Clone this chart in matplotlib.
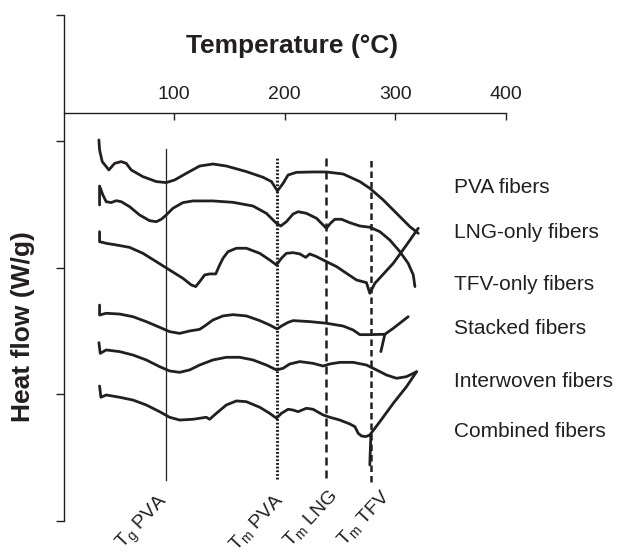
import numpy as np
import matplotlib
matplotlib.use('Agg')
import matplotlib.pyplot as plt

# DSC traces: temperature (C) and stacked heat flow (arbitrary offset units)
pva_t = [32.0, 32.6, 35.0, 41.0, 46.2, 52.2, 56.7, 61.2, 71.8, 83.9, 92.9, 100.5, 111.0, 123.1,
         135.1, 147.2, 165.3, 180.4, 188.0, 193.4, 198.5, 203.0, 210.6, 225.6, 237.7, 252.8,
         267.9, 276.9, 289.0, 301.1, 313.1, 320.7]
pva_hf = [3.012, 2.933, 2.841, 2.775, 2.827, 2.841, 2.827, 2.775, 2.722, 2.683, 2.675, 2.696,
          2.748, 2.806, 2.822, 2.806, 2.762, 2.717, 2.683, 2.609, 2.669, 2.735, 2.756, 2.759,
          2.759, 2.743, 2.683, 2.630, 2.538, 2.432, 2.327, 2.274]

lng_t = [32.6, 32.6, 35.6, 38.6, 43.1, 47.7, 52.2, 59.7, 68.8, 77.8, 83.9, 88.4, 92.9, 98.9,
         108.0, 117.1, 135.1, 153.2, 171.3, 183.4, 192.5, 196.4, 201.5, 207.6, 212.1, 219.6,
         228.7, 234.7, 237.7, 241.3, 245.3, 251.3, 258.8, 267.9, 276.9, 286.0, 295.0, 304.1,
         311.6, 316.2, 317.7]
lng_hf = [2.498, 2.648, 2.577, 2.524, 2.517, 2.532, 2.524, 2.485, 2.419, 2.374, 2.366, 2.385,
          2.419, 2.472, 2.517, 2.530, 2.530, 2.519, 2.490, 2.432, 2.353, 2.332, 2.366, 2.427,
          2.445, 2.432, 2.393, 2.340, 2.314, 2.353, 2.385, 2.385, 2.358, 2.332, 2.322, 2.287,
          2.221, 2.129, 2.037, 1.945, 1.853]

tfv_t = [32.6, 32.6, 38.6, 47.7, 59.7, 71.8, 83.9, 95.9, 108.0, 115.5, 119.5, 123.1, 127.6,
         132.1, 137.6, 141.2, 144.2, 148.7, 156.3, 165.3, 177.4, 186.4, 192.5, 197.0, 201.5,
         207.6, 213.6, 219.0, 222.6, 228.7, 237.7, 246.8, 255.8, 264.9, 273.9, 276.9, 281.5,
         298.1, 310.1, 320.7]
tfv_hf = [2.287, 2.208, 2.195, 2.182, 2.163, 2.116, 2.050, 1.984, 1.918, 1.866, 1.853, 1.892,
          1.945, 1.953, 1.953, 2.024, 2.077, 2.129, 2.156, 2.156, 2.116, 2.063, 2.024, 2.077,
          2.116, 2.121, 2.111, 2.084, 2.111, 2.090, 2.050, 2.011, 1.958, 1.905, 1.884, 1.800,
          1.879, 2.037, 2.182, 2.314]

stacked_t = [32.6, 32.6, 38.6, 50.7, 62.8, 74.8, 86.9, 95.9, 105.0, 114.0, 123.1, 127.6, 135.1,
             144.2, 153.2, 165.3, 177.4, 186.4, 193.1, 197.0, 203.0, 207.6, 222.6, 237.7,
             252.8, 261.8, 267.9, 276.9, 290.5, 298.1, 311.6, np.nan, 290.5, 286.9]
stacked_hf = [1.707, 1.628, 1.642, 1.636, 1.615, 1.576, 1.531, 1.497, 1.483, 1.502, 1.515,
              1.541, 1.589, 1.621, 1.631, 1.621, 1.584, 1.549, 1.518, 1.541, 1.570, 1.584,
              1.576, 1.563, 1.541, 1.510, 1.473, 1.473, 1.476, 1.523, 1.615, np.nan, 1.476, 1.339]

interwoven_t = [32.0, 33.2, 38.6, 50.7, 62.8, 74.8, 86.9, 95.9, 105.0, 114.0, 123.1, 135.1,
                147.2, 159.3, 171.3, 183.4, 192.5, 198.5, 204.5, 213.6, 225.6, 234.7, 240.7,
                249.8, 261.8, 273.9, 283.0, 292.0, 301.1, 310.1, 319.2]
interwoven_hf = [1.410, 1.325, 1.352, 1.339, 1.312, 1.273, 1.220, 1.186, 1.175, 1.194, 1.233,
                 1.273, 1.294, 1.294, 1.273, 1.233, 1.194, 1.207, 1.241, 1.260, 1.246, 1.225,
                 1.241, 1.254, 1.254, 1.233, 1.194, 1.154, 1.128, 1.141, 1.180]

combined_t = [32.6, 33.8, 38.6, 50.7, 62.8, 74.8, 86.9, 95.9, 105.0, 117.1, 129.1, 132.1, 138.2,
              147.2, 156.3, 165.3, 177.4, 186.4, 192.5, 197.0, 203.0, 207.6, 212.1, 219.6,
              225.6, 234.7, 240.7, 249.8, 258.8, 263.4, 266.4, 269.4, 273.3, 276.9, 286.0,
              298.1, 310.1, 319.2, np.nan, 277.8, 276.9]
combined_hf = [1.067, 0.978, 0.996, 0.978, 0.956, 0.917, 0.864, 0.820, 0.798, 0.804, 0.820,
               0.804, 0.851, 0.917, 0.949, 0.943, 0.899, 0.851, 0.812, 0.851, 0.883, 0.877,
               0.864, 0.891, 0.883, 0.838, 0.820, 0.798, 0.767, 0.746, 0.693, 0.672, 0.667,
               0.680, 0.785, 0.930, 1.062, 1.180, np.nan, 0.667, 0.443]

series_names = ['PVA fibers', 'LNG-only fibers', 'TFV-only fibers', 'Stacked fibers',
                'Interwoven fibers', 'Combined fibers']
name_y = [2.64, 2.28, 1.87, 1.52, 1.10, 0.71]

# transition markers: temperature, label
trans_t = [92.9, 193.4, 237.7, 277.8]
trans_labels = ['T$_g$ PVA', 'T$_m$ PVA', 'T$_m$ LNG', 'T$_m$ TFV']
trans_top = [2.94, 2.88, 2.89, 2.87]
trans_bottom = [0.32, 0.33, 0.34, 0.31]
trans_label_x = [93.0, 196.5, 244.5, 292.5]
trans_label_y = [0.18, 0.19, 0.22, 0.22]

plt.rcParams['font.family'] = ['Liberation Sans', 'DejaVu Sans']
plt.rcParams['mathtext.default'] = 'regular'
ink = '#231f20'

fig = plt.figure(figsize=(6.19, 5.55), dpi=100)
ax = fig.add_axes([0.1026, 0.0613, 0.7148, 0.9117])

traces = [(pva_t, pva_hf), (lng_t, lng_hf), (tfv_t, tfv_hf), (stacked_t, stacked_hf),
          (interwoven_t, interwoven_hf), (combined_t, combined_hf)]
for t, hf in traces:
    ax.plot(t, hf, color=ink, lw=2.0, solid_joinstyle='round', solid_capstyle='round')

styles = [('-', 0.9), ((0, (0.6, 0.6)), 2.2), ((0, (3.2, 2.0)), 1.8), ((0, (2.6, 1.6)), 1.8)]
for t, top, bot, (ls, lw) in zip(trans_t, trans_top, trans_bottom, styles):
    ax.plot([t, t], [bot, top], color=ink, lw=lw, linestyle=ls)

for lx, ly, lab in zip(trans_label_x, trans_label_y, trans_labels):
    ax.text(lx, ly, lab, rotation=47, rotation_mode='anchor', ha='right', va='center',
            fontsize=14, color=ink)

for name, y in zip(series_names, name_y):
    ax.text(353, y, name, fontsize=15, color=ink, ha='left', va='center')

ax.set_xlim(0, 400)
ax.set_ylim(0, 4)
ax.spines['right'].set_visible(False)
ax.spines['bottom'].set_visible(False)
ax.spines['top'].set_position(('data', 3.225))
for s in ['top', 'left']:
    ax.spines[s].set_color(ink)
    ax.spines[s].set_linewidth(1.0)

ax.set_xticks([100, 200, 300, 400])
ax.tick_params(axis='x', top=True, bottom=False, labeltop=True, labelbottom=False,
               direction='in', length=5, width=1, pad=7, labelsize=14, colors=ink)
ax.set_yticks([0, 1, 2, 3, 4])
ax.set_yticklabels([])
ax.tick_params(axis='y', direction='out', length=6, width=1, colors=ink)

ax.text(207, 3.755, 'Temperature (°C)', fontsize=19, fontweight='bold', color=ink,
        ha='center', va='center')
fig.text(23 / 619, 1 - 327 / 555, 'Heat flow (W/g)', rotation=90, fontsize=19,
         fontweight='bold', color=ink, ha='center', va='center')

fig.savefig('out.png', dpi=100)
